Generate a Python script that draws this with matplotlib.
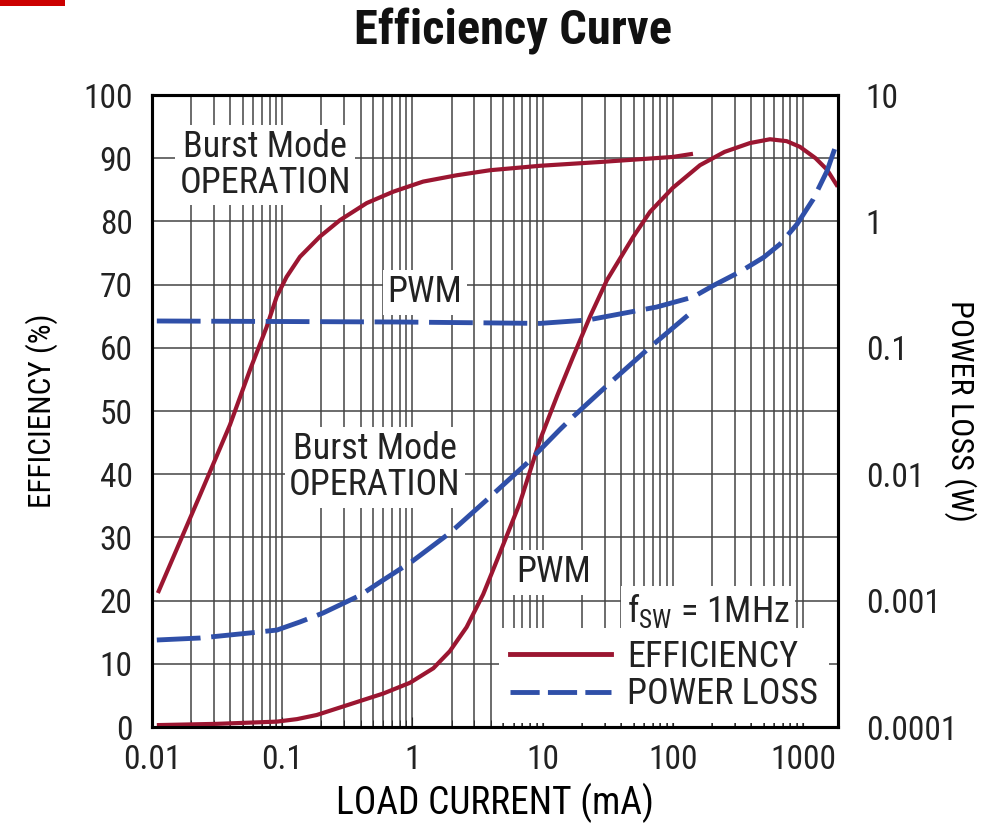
"""Efficiency and power loss vs load current (dual axis, log x)."""

import matplotlib

matplotlib.use("Agg")

import matplotlib.pyplot as plt
from matplotlib.lines import Line2D
from matplotlib.patches import Rectangle
from matplotlib.ticker import NullLocator

# ---- data ------------------------------------------------------------------
# Burst Mode efficiency (%)
burst_eff_ma = [0.0111, 0.0234, 0.0397, 0.0566, 0.0760, 0.0908, 0.108, 0.137, 0.195,
                0.278, 0.446, 0.713, 1.21, 2.19, 3.95, 9.55, 27.6, 100, 143]
burst_eff = [21.2, 36.7, 47.8, 56.5, 63.3, 68.1, 71.2, 74.4, 77.6,
             80.2, 82.9, 84.7, 86.3, 87.3, 88.1, 88.8, 89.4, 90.2, 90.7]

# PWM efficiency (%)
pwm_eff_ma = [0.0109, 0.0314, 0.0908, 0.13, 0.184, 0.332, 0.598, 0.959, 1.45, 1.94, 2.61,
              3.5, 4.47, 6.71, 9.55, 13.0, 17.1, 23.1, 31.2, 49.5, 66.8,
              100, 162, 250, 392, 558, 750, 948, 1250, 1529, 1850]
pwm_eff = [0.3, 0.5, 0.85, 1.25, 1.9, 3.6, 5.3, 7.0, 9.3, 12.0, 15.8,
           21.0, 26.4, 35.5, 45.4, 52.5, 58.5, 64.9, 70.7, 77.5, 81.5,
           85.3, 88.9, 91.0, 92.4, 93.0, 92.7, 91.8, 90.0, 88.2, 85.5]

# Burst Mode power loss (W)
burst_loss_ma = [0.0109, 0.0234, 0.0566, 0.0912, 0.137, 0.206, 0.396, 0.564, 1.0, 1.94,
                 3.72, 7.63, 13.5, 17.1, 32.9, 66.8, 140]
burst_loss = [4.88e-4, 5.06e-4, 5.55e-4, 5.85e-4, 6.78e-4, 7.98e-4, 1.1e-3, 1.4e-3, 2.05e-3, 3.43e-3,
              6.25e-3, 0.01228, 0.0224, 0.0284, 0.0527, 0.101, 0.192]

# PWM power loss (W)
pwm_loss_ma = [0.0109, 0.80, 9.55, 22.3, 74.9, 143, 204, 329, 500, 665, 900, 1200, 1530, 1850]
pwm_loss = [0.163, 0.160, 0.156, 0.166, 0.210, 0.252, 0.31, 0.40, 0.52, 0.66, 0.95, 1.5, 2.5, 4.4]

x_ticks = [0.01, 0.1, 1, 10, 100, 1000]
x_labels = ["0.01", "0.1", "1", "10", "100", "1000"]
eff_ticks = list(range(0, 101, 10))
loss_ticks = [1e-4, 1e-3, 1e-2, 1e-1, 1, 10]
loss_labels = ["0.0001", "0.001", "0.01", "0.1", "1", "10"]

RED = "#9b1631"
BLUE = "#2f4fa8"
INK = "#222222"

plt.rcParams["font.family"] = ["Roboto Condensed", "Archivo Narrow", "DejaVu Sans"]
plt.rcParams["mathtext.default"] = "regular"
plt.rcParams["text.color"] = INK

FS = 24        # tick labels
FS_NOTE = 26   # in-plot notes and legend

fig = plt.figure(figsize=(9.9, 8.24), dpi=100)
ax = fig.add_axes([0.1535, 0.1177, 0.693, 0.767])
ax.set_xscale("log")
ax.set_xlim(0.01, 1860)
ax.set_ylim(0, 100)
ax.set_axisbelow(True)

ax.grid(True, which="both", axis="x", color="#444444", linewidth=1.1)
ax.grid(True, which="major", axis="y", color="#444444", linewidth=1.1)

ax.plot(burst_eff_ma, burst_eff, color=RED, linewidth=3.0, solid_capstyle="butt",
        solid_joinstyle="round", zorder=3)
ax.plot(pwm_eff_ma, pwm_eff, color=RED, linewidth=3.0, solid_capstyle="butt",
        solid_joinstyle="round", zorder=3)

ax.set_xticks(x_ticks)
ax.set_xticklabels(x_labels)
ax.set_yticks(eff_ticks)
ax.tick_params(axis="both", which="both", direction="in", labelsize=FS, colors=INK)
ax.tick_params(axis="x", which="major", length=7, pad=12)
ax.tick_params(axis="x", which="minor", length=5)
ax.tick_params(axis="y", which="major", length=0, pad=14)
ax.set_xlabel("LOAD CURRENT (mA)", fontsize=27, labelpad=5)
ax.set_ylabel("EFFICIENCY (%)", fontsize=22.5, labelpad=18)
for sp in ax.spines.values():
    sp.set_linewidth(2.2)

box = dict(facecolor="white", edgecolor="none", pad=3)
ax.text(0.165, 0.889, "Burst Mode\nOPERATION", transform=ax.transAxes, fontsize=FS_NOTE,
        ha="center", va="center", linespacing=1.0, bbox=box, zorder=2)
ax.text(0.398, 0.688, "PWM", transform=ax.transAxes, fontsize=FS_NOTE,
        ha="center", va="center", bbox=box, zorder=2)
ax.text(0.325, 0.411, "Burst Mode\nOPERATION", transform=ax.transAxes, fontsize=FS_NOTE,
        ha="center", va="center", linespacing=1.0, bbox=box, zorder=2)
ax.text(0.585, 0.245, "PWM", transform=ax.transAxes, fontsize=FS_NOTE,
        ha="center", va="center", bbox=box, zorder=2)

# right axis: power loss
ax2 = ax.twinx()
ax2.set_yscale("log")
ax2.set_ylim(1e-4, 10)
dash = (9, 2.2)
ax2.plot(burst_loss_ma, burst_loss, color=BLUE, linewidth=3.5, dashes=dash)
ax2.plot(pwm_loss_ma, pwm_loss, color=BLUE, linewidth=3.5, dashes=dash)
ax2.set_yticks(loss_ticks)
ax2.set_yticklabels(loss_labels)
ax2.yaxis.set_minor_locator(NullLocator())
ax2.tick_params(axis="y", which="both", length=0, pad=20, labelsize=FS, colors=INK)
ax2.set_ylabel("POWER LOSS (W)", fontsize=23, rotation=-90, va="center", ha="center")
ax2.yaxis.set_label_coords(1.178, 0.5)
for sp in ax2.spines.values():
    sp.set_linewidth(2.2)

handles = [
    Line2D([], [], color=RED, linewidth=3.5),
    Line2D([], [], color=BLUE, linewidth=3.5, dashes=(6.0, 1.7)),
]
leg = ax2.legend(handles, ["EFFICIENCY", "POWER LOSS"], loc="lower left",
                 bbox_to_anchor=(0.506, 0.006), borderaxespad=0.0, fontsize=FS_NOTE,
                 frameon=True, fancybox=False, framealpha=1.0, edgecolor="none",
                 handlelength=2.8, handletextpad=0.45, labelspacing=0.05, borderpad=0.3)
ax2.text(0.692, 0.184, "f$_{SW}$ = 1MHz", transform=ax2.transAxes, fontsize=FS_NOTE,
         ha="left", va="center", bbox=dict(facecolor="white", edgecolor="none", pad=4))

fig.suptitle("Efficiency Curve", x=0.518, y=0.99, fontsize=35, fontweight="bold",
             va="top", color="#111111")

# clipped logo remnant in the top-left corner
fig.add_artist(Rectangle((0, 1 - 6 / 824), 65 / 990, 6 / 824, transform=fig.transFigure,
                         facecolor="#cc0000", edgecolor="none"))

fig.savefig("out.png", dpi=100)
